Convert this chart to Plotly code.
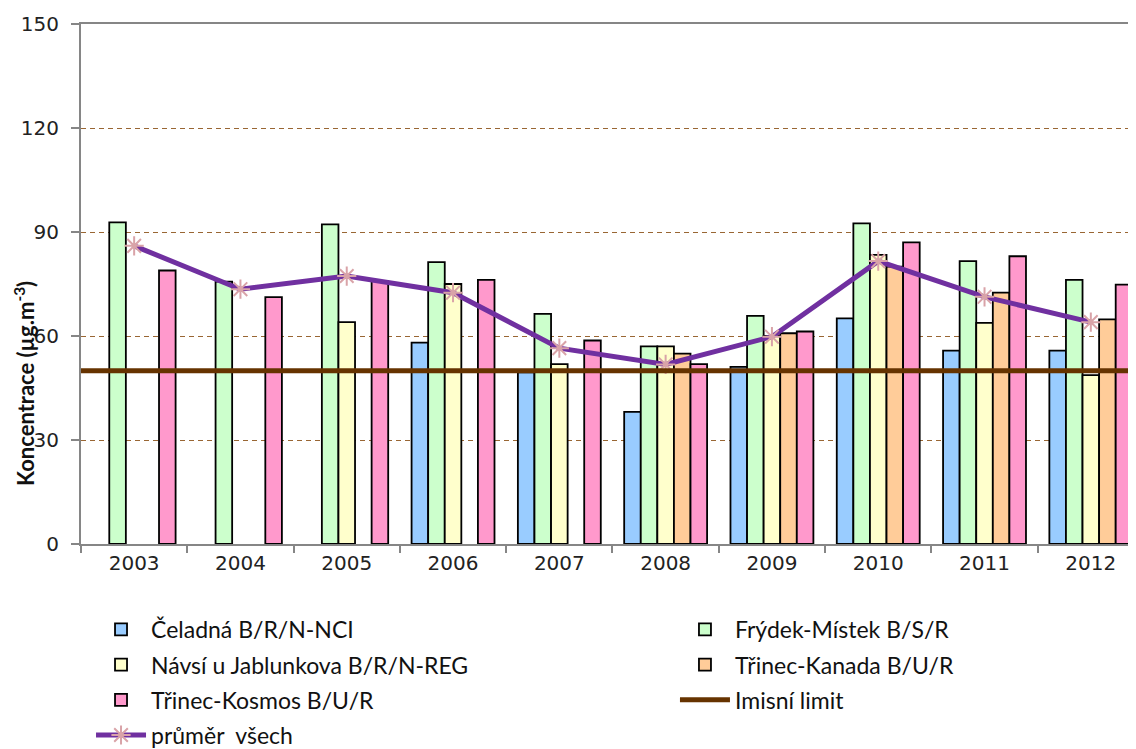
import plotly.graph_objects as go

YEARS = ["2003", "2004", "2005", "2006", "2007", "2008", "2009", "2010", "2011", "2012"]

SERIES_NAMES = [
    "Čeladná B/R/N-NCI",
    "Frýdek-Místek B/S/R",
    "Návsí u Jablunkova B/R/N-REG",
    "Třinec-Kanada B/U/R",
    "Třinec-Kosmos B/U/R",
]
celadna = [None, None, None, 58.1, 49.5, 38.1, 51.1, 65.1, 55.8, 55.8]
frydek = [92.8, 75.7, 92.2, 81.3, 66.4, 57.0, 65.8, 92.5, 81.6, 76.2]
navsi = [None, None, 64.0, 75.0, 51.9, 57.0, 60.0, 83.4, 63.8, 48.7]
kanada = [None, None, None, None, None, 54.9, 60.8, 80.0, 72.5, 64.8]
kosmos = [78.9, 71.2, 75.9, 76.2, 58.7, 51.9, 61.3, 87.0, 83.0, 74.8]
prumer = [86.0, 73.5, 77.3, 72.5, 56.5, 51.8, 59.8, 81.6, 71.3, 64.0]
LIMIT = 50
LIMIT_NAME = "Imisní limit"
AVG_NAME = "průměr  všech"

SERIES_VALUES = [celadna, frydek, navsi, kanada, kosmos]
COLORS = ["#99CCFF", "#CCFFCC", "#FFFFCC", "#FFCC99", "#FF99CC"]
LEGENDS = ["legend", "legend2", "legend", "legend2", "legend"]

AXIS_COLOR = "#868686"
TICK_FONT = dict(family="DejaVu Sans", size=20, color="#222222")
LEG_FONT = dict(family="Lato, sans-serif", size=23, color="#111111")

fig = go.Figure()
for name, vals, col, lg in zip(SERIES_NAMES, SERIES_VALUES, COLORS, LEGENDS):
    fig.add_trace(go.Bar(
        x=YEARS, y=vals, name=name, legend=lg, legendgroup=name,
        marker=dict(color=col, line=dict(color="#000000", width=1.8)),
    ))

# legend entry for the limit line
fig.add_trace(go.Scatter(
    x=[None], y=[None], mode="lines", name=LIMIT_NAME, legend="legend2",
    legendgroup=LIMIT_NAME, line=dict(color="#663300", width=5),
))
fig.add_hline(y=LIMIT, line=dict(color="#663300", width=5), layer="above")

fig.add_trace(go.Scatter(
    x=YEARS, y=prumer, mode="lines+markers", name=AVG_NAME, legend="legend",
    legendgroup=AVG_NAME,
    line=dict(color="#7030A0", width=5),
    marker=dict(symbol="asterisk-open", size=16, color="#D9A3A8",
                line=dict(color="#D9A3A8", width=2)),
))

fig.update_layout(
    width=1128, height=741,
    margin=dict(l=73, r=0, t=16, b=205, autoexpand=False),
    paper_bgcolor="white", plot_bgcolor="white",
    barmode="group", bargap=0.22, bargroupgap=0,
    xaxis=dict(
        type="category", range=[-0.5, 9.425],
        showline=True, linecolor=AXIS_COLOR, linewidth=2, mirror=True,
        ticks="outside", tickson="boundaries", ticklen=7, tickcolor=AXIS_COLOR, tickwidth=1.5,
        showgrid=False, tickfont=TICK_FONT,
    ),
    yaxis=dict(
        range=[0, 150], dtick=30, tick0=0,
        showline=True, linecolor=AXIS_COLOR, linewidth=2,
        ticks="outside", ticklen=8, tickcolor=AXIS_COLOR, tickwidth=1.5,
        showgrid=True, gridcolor="#996633", gridwidth=1, griddash="5px,4px",
        zeroline=False, tickfont=TICK_FONT, ticklabelstandoff=8,
    ),
    legend=dict(
        x=0.0095, xanchor="left", y=-0.123, yanchor="top",
        orientation="v", font=LEG_FONT, itemwidth=50, tracegroupgap=2.3,
        bgcolor="rgba(0,0,0,0)",
    ),
    legend2=dict(
        x=0.563, xanchor="left", y=-0.123, yanchor="top",
        orientation="v", font=LEG_FONT, itemwidth=50, tracegroupgap=2.3,
        bgcolor="rgba(0,0,0,0)",
    ),
    annotations=[dict(
        text="<b>Koncentrace (µg.m<sup>-3</sup>)</b>", textangle=-90,
        xref="paper", yref="paper", x=-0.053, y=0.3077,
        xanchor="center", yanchor="middle", showarrow=False,
        font=dict(family="Lato, sans-serif", size=22, color="#111111"),
    )],
)

fig.write_html("out.html")
